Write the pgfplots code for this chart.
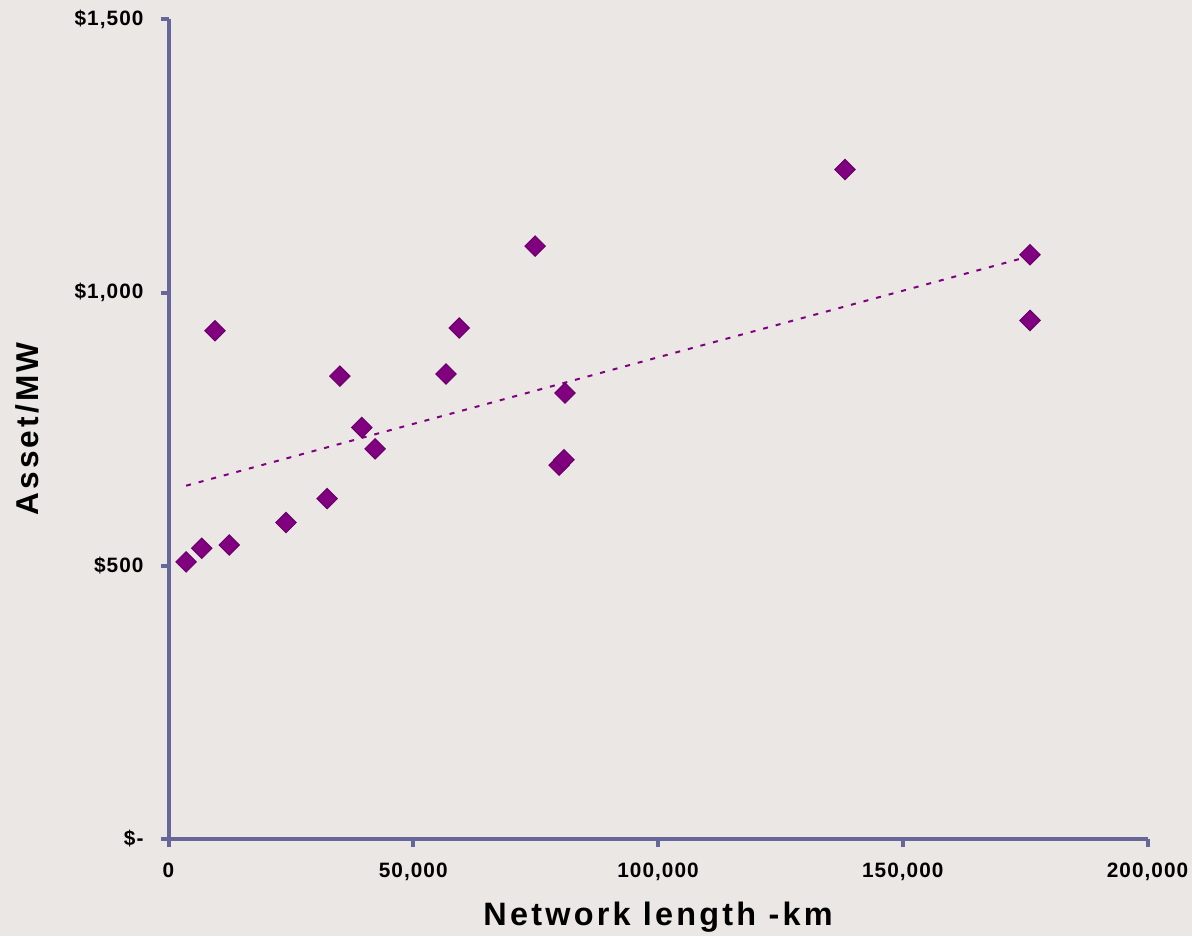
\documentclass[border=0pt]{standalone}
\usepackage{pgfplots}
\pgfplotsset{compat=1.18}
\usepackage{fontspec}
\setmainfont{Liberation Sans}
\definecolor{bg}{RGB}{235,231,228}
\definecolor{axiscol}{RGB}{102,102,153}
\definecolor{mk}{RGB}{128,0,128}
\definecolor{mkedge}{RGB}{105,0,105}
\begin{document}
\begin{tikzpicture}
\fill[bg] (0,0) rectangle (596pt,468pt);
\begin{axis}[
  at={(84.25pt,48.5pt)}, anchor=south west,
  scale only axis, width=489.5pt, height=409.85pt,
  xmin=0, xmax=200000, ymin=0, ymax=1500,
  axis x line*=bottom, axis y line*=left,
  axis line style={draw=axiscol, line width=2pt},
  every tick/.style={draw=axiscol, line width=2pt},
  tick align=outside, major tick length=4pt,
  minor tick num=0,
  xtick={0,50000,100000,150000,200000},
  xticklabels={0,{50,000},{100,000},{150,000},{200,000}},
  ytick={0,500,1000,1500},
  yticklabels={{\$-},{\$500},{\$1,000},{\$1,500}},
  scaled x ticks=false, scaled y ticks=false,
  tick label style={font=\bfseries\fontsize{10.4}{12}\selectfont\addfontfeature{LetterSpace=5}},
  xticklabel style={yshift=-4.5pt},
  yticklabel style={xshift=-5pt},
  xlabel={Network length -km},
  ylabel={Asset/MW},
  xlabel style={font=\bfseries\fontsize{16.2}{18}\selectfont\addfontfeature{LetterSpace=10},
    at={(axis description cs:0.5,-0.1061)}, anchor=base},
  ylabel style={font=\bfseries\fontsize{15.8}{18}\selectfont\addfontfeature{LetterSpace=10},
    at={(axis description cs:-0.1325,0.5)}, anchor=base},
  clip=false,
]
\addplot[mk, line width=1pt, dash pattern=on 2.5pt off 4pt] coordinates {(3600,646.5) (176000,1066.6)};
\addplot[only marks, mark=square*, mark size=3.6pt,
  mark options={rotate=45, fill=mk, draw=mkedge, line width=0.5pt}] coordinates {
(3600,507) (6800,532) (9500,930) (12400,538) (24000,579) (32400,623)
(35000,847) (39500,753) (42200,714) (56700,851) (59400,935) (74900,1085)
(79800,684) (80800,694) (81000,816) (138200,1225) (176000,1069) (176000,949)
};
\end{axis}
\pgfresetboundingbox
\path (0,0) rectangle (596pt,468pt);
\end{tikzpicture}
\end{document}
